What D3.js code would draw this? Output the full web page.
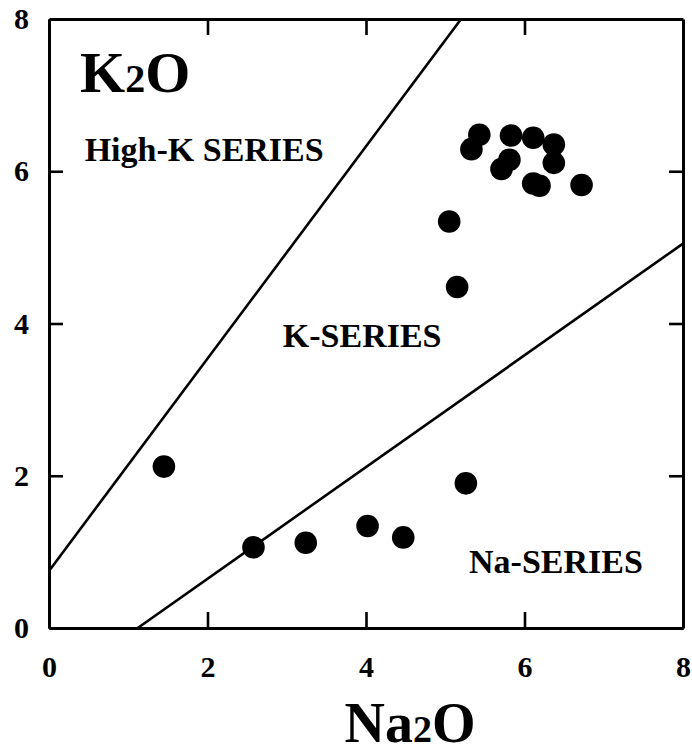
<!DOCTYPE html>
<html>
<head>
<meta charset="utf-8">
<script src="https://cdn.jsdelivr.net/npm/d3@7"></script>
<style>
  body { margin: 0; background: #fff; }
  text { font-family: "Liberation Serif", "DejaVu Serif", serif; font-weight: bold; fill: #000; }
</style>
</head>
<body>
<div class="chart"></div>
<script>
var width = 692;
var height = 756;

// Na2O (wt%) and K2O (wt%) of the samples
var na2o = [1.45, 2.58, 3.24, 4.02, 4.47, 5.26, 5.15, 5.05,
            5.43, 5.33, 5.83, 6.11, 6.37, 5.81, 5.71, 6.37, 6.11, 6.19, 6.72];
var k2o  = [2.12, 1.06, 1.12, 1.34, 1.19, 1.90, 4.48, 5.34,
            6.48, 6.29, 6.47, 6.44, 6.35, 6.15, 6.03, 6.11, 5.84, 5.81, 5.82];

// series boundary lines, [Na2O, K2O] end points
var highKLine = [[0, 0.75], [5.2, 8]];
var naLine = [[1.12, 0], [8, 5.05]];

var tickLabels = [0, 2, 4, 6, 8];
var innerTicks = [2, 4, 6];

var fieldLabels = [
  { name: "High-K SERIES", na: 0.45, k: 6.14 },
  { name: "K-SERIES", na: 2.95, k: 3.69 },
  { name: "Na-SERIES", na: 5.3, k: 0.72 }
];

var x = d3.scaleLinear().domain([0, 8]).range([49, 683]);
var y = d3.scaleLinear().domain([0, 8]).range([628, 19]);

var svg = d3
  .select(".chart")
  .append("svg")
  .attr("width", width)
  .attr("height", height);

// boundary lines
var line = d3
  .line()
  .x(function (d) { return x(d[0]); })
  .y(function (d) { return y(d[1]); });

svg
  .selectAll(".boundary")
  .data([highKLine, naLine])
  .enter()
  .append("path")
  .attr("class", "boundary")
  .attr("d", line)
  .attr("fill", "none")
  .attr("stroke", "#000")
  .attr("stroke-width", 2.6);

// axes, ticks pointing inward
function styleAxis(g) {
  g.attr("font-family", null).attr("font-size", null);
  g.selectAll(".domain").attr("stroke", "#000").attr("stroke-width", 3);
  g.selectAll(".tick line").attr("stroke", "#000").attr("stroke-width", 2.6);
  g.selectAll(".tick text")
    .style("font-family", '"Liberation Serif", serif')
    .style("font-weight", "bold")
    .style("font-size", "30px");
}

svg
  .append("g")
  .attr("transform", "translate(0," + y(0) + ")")
  .call(d3.axisBottom(x).tickValues(tickLabels).tickSizeInner(0).tickSizeOuter(0).tickPadding(28).tickFormat(d3.format("d")))
  .call(styleAxis);

svg
  .append("g")
  .attr("transform", "translate(" + x(0) + ",0)")
  .call(d3.axisLeft(y).tickValues(tickLabels).tickSizeInner(0).tickSizeOuter(0).tickPadding(20).tickFormat(d3.format("d")))
  .call(styleAxis);

svg
  .append("g")
  .attr("transform", "translate(0," + y(0) + ")")
  .call(d3.axisBottom(x).tickValues(innerTicks).tickSizeInner(-16).tickSizeOuter(0).tickFormat(""))
  .call(styleAxis);

svg
  .append("g")
  .attr("transform", "translate(0," + y(8) + ")")
  .call(d3.axisTop(x).tickValues(innerTicks).tickSizeInner(-16).tickSizeOuter(0).tickFormat(""))
  .call(styleAxis);

svg
  .append("g")
  .attr("transform", "translate(" + x(0) + ",0)")
  .call(d3.axisLeft(y).tickValues(innerTicks).tickSizeInner(-14).tickSizeOuter(0).tickFormat(""))
  .call(styleAxis);

svg
  .append("g")
  .attr("transform", "translate(" + x(8) + ",0)")
  .call(d3.axisRight(y).tickValues(innerTicks).tickSizeInner(-14).tickSizeOuter(0).tickFormat(""))
  .call(styleAxis);

// data points
svg
  .append("g")
  .selectAll("circle")
  .data(na2o)
  .enter()
  .append("circle")
  .attr("cx", function (d) { return x(d); })
  .attr("cy", function (d, i) { return y(k2o[i]); })
  .attr("r", 11.3)
  .attr("fill", "#000");

// field names
svg
  .selectAll(".field")
  .data(fieldLabels)
  .enter()
  .append("text")
  .attr("class", "field")
  .attr("x", function (d) { return x(d.na); })
  .attr("y", function (d) { return y(d.k); })
  .style("font-size", "34px")
  .text(function (d) { return d.name; });

// axis titles
var yTitle = svg.append("text").attr("x", 80).attr("y", 92).style("font-size", "58px");
yTitle.append("tspan").text("K");
yTitle.append("tspan").style("font-size", "40px").text("2");
yTitle.append("tspan").text("O");

var xTitle = svg
  .append("text")
  .attr("x", (x(0) + x(8)) / 2 + 44)
  .attr("y", 742)
  .attr("text-anchor", "middle")
  .style("font-size", "56px");
xTitle.append("tspan").text("Na");
xTitle.append("tspan").style("font-size", "38px").text("2");
xTitle.append("tspan").text("O");
</script>
</body>
</html>
